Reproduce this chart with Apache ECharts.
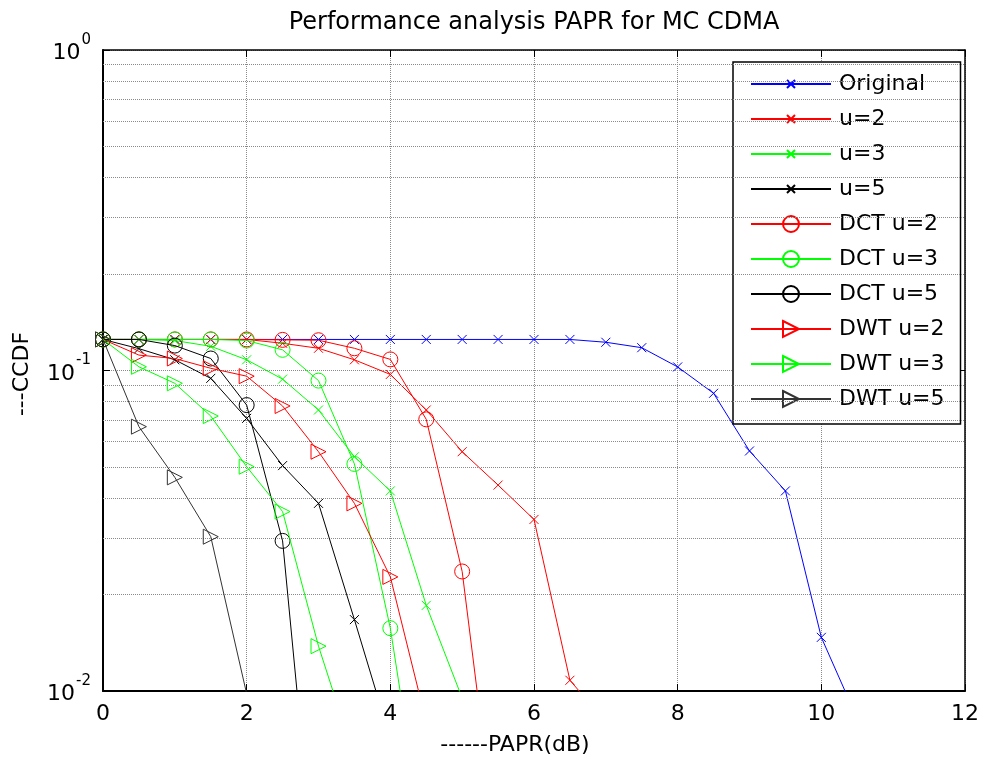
<!DOCTYPE html>
<html>
<head>
<meta charset="utf-8">
<script src="https://cdn.jsdelivr.net/npm/echarts@6/dist/echarts.min.js"></script>
<style>
html,body{margin:0;padding:0;background:#fff;}
#chart{width:990px;height:763px;}
</style>
</head>
<body>
<div id="chart"></div>
<script>
// ---- data ----
const papr = [0,0.5,1,1.5,2,2.5,3,3.5,4,4.5,5,5.5,6,6.5,7,7.5,8,8.5,9,9.5,10,10.5];
const xTicks = [0,2,4,6,8,10,12];
const yTicks = [0.01,0.1,1];
const yMinorGrid = [0.02,0.03,0.04,0.05,0.06,0.07,0.08,0.09,0.2,0.3,0.4,0.5,0.6,0.7,0.8,0.9];

const original = [0.125,0.125,0.125,0.125,0.125,0.125,0.125,0.125,0.125,0.125,0.125,0.125,0.125,0.125,0.1225,0.1178,0.1026,0.0849,0.0561,0.0421,0.0147,0.0082];
const u2 = [0.125,0.125,0.125,0.125,0.125,0.1216,0.1173,0.108,0.0972,0.0753,0.0558,0.0439,0.0343,0.0108,0.008];
const u3 = [0.125,0.125,0.124,0.119,0.108,0.094,0.0753,0.0538,0.0421,0.0185,0.0095];
const u5 = [0.125,0.117,0.108,0.0945,0.0709,0.0505,0.0385,0.0167,0.0071];
const dct2 = [0.125,0.125,0.125,0.125,0.125,0.1246,0.1243,0.1173,0.1083,0.0704,0.0236,0.003];
const dct3 = [0.125,0.125,0.125,0.125,0.124,0.116,0.093,0.0511,0.0157,0.003];
const dct5 = [0.125,0.125,0.1196,0.109,0.078,0.0294,0.002];
const dwt2 = [0.125,0.1117,0.109,0.1016,0.096,0.0775,0.0558,0.0385,0.0227,0.008];
const dwt3 = [0.125,0.1027,0.0912,0.0721,0.0501,0.0363,0.0138,0.0062];
const dwt5 = [0.125,0.0668,0.0464,0.0303,0.0098];

const seriesNames = ['Original','u=2','u=3','u=5','DCT u=2','DCT u=3','DCT u=5','DWT u=2','DWT u=3','DWT u=5'];
const seriesValues = [original,u2,u3,u5,dct2,dct3,dct5,dwt2,dwt3,dwt5];

// ---- styles ----
const BLUE='#0000ff', RED='#ff0000', GREEN='#00ff00', BLACK='#000000';
const colors = [BLUE,RED,GREEN,BLACK,RED,GREEN,BLACK,RED,GREEN,'#333333'];
const CROSS = 'path://M0,0M20,20M5,5L15,15M15,5L5,15';
const TRI = 'path://M0,0L10,5L0,10Z';
const markers = [CROSS,CROSS,CROSS,CROSS,'circle','circle','circle',TRI,TRI,TRI];
const sizes = [18,18,18,18,15,15,15,15,15,15];
const FONT = 'DejaVu Sans';

const series = seriesNames.map((name,i)=>({
  name: name,
  type: 'line',
  data: seriesValues[i].map((v,k)=>[papr[k], v]),
  symbol: markers[i],
  symbolSize: sizes[i],
  showAllSymbol: true,
  clip: true,
  lineStyle: {color: colors[i], width: 1},
  itemStyle: {color: 'none', borderColor: colors[i], borderWidth: 1},
  emphasis: {disabled: true},
  animation: false,
  z: 3 + i
}));

series.push({
  type: 'line',
  data: [],
  silent: true,
  animation: false,
  markLine: {
    silent: true,
    symbol: 'none',
    label: {show: false},
    lineStyle: {color: '#8a8a8a', type: 'dotted', width: 1},
    data: yMinorGrid.map(v=>({yAxis: v}))
  }
});

function supLabel(v){
  const e = Math.round(Math.log10(v));
  return '{b|10}{s|' + e + '}';
}

const chart = echarts.init(document.getElementById('chart'), null, {renderer:'canvas'});
chart.setOption({
  backgroundColor: '#ffffff',
  animation: false,
  grid: {left: 103, top: 50, right: 25, bottom: 72, containLabel: false},
  xAxis: [{
    type: 'value', min: xTicks[0], max: xTicks[xTicks.length-1], interval: 2,
    position: 'bottom',
    axisLine: {show: true, onZero: false, lineStyle: {color: '#000', width: 2}},
    axisTick: {show: true, inside: true, length: 7, lineStyle: {color: '#000', width: 1}},
    axisLabel: {color: '#000', fontSize: 22, fontFamily: FONT, margin: 12},
    splitLine: {show: true, lineStyle: {color: '#8a8a8a', type: 'dotted', width: 1}}
  },{
    type: 'value', min: xTicks[0], max: xTicks[xTicks.length-1], interval: 2,
    position: 'top',
    axisLine: {show: true, onZero: false, lineStyle: {color: '#000', width: 1.5}},
    axisTick: {show: true, inside: true, length: 7, lineStyle: {color: '#000'}},
    axisLabel: {show: false},
    splitLine: {show: false}
  }],
  yAxis: [{
    type: 'log', logBase: 10, min: yTicks[0], max: yTicks[yTicks.length-1], interval: 1,
    position: 'left',
    axisLine: {show: true, onZero: false, lineStyle: {color: '#000', width: 2}},
    axisTick: {show: true, inside: true, length: 7, lineStyle: {color: '#000'}},
    axisLabel: {
      color: '#000', fontFamily: FONT, margin: 12, padding: [7,0,0,0],
      formatter: supLabel,
      rich: {
        b: {fontSize: 22, fontFamily: FONT, color: '#000', verticalAlign: 'bottom', lineHeight: 22},
        s: {fontSize: 15, fontFamily: FONT, color: '#000', verticalAlign: 'bottom', lineHeight: 15, padding: [0,0,17,1]}
      }
    },
    splitLine: {show: true, lineStyle: {color: '#8a8a8a', type: 'dotted', width: 1}}
  },{
    type: 'log', logBase: 10, min: yTicks[0], max: yTicks[yTicks.length-1], interval: 1,
    position: 'right',
    axisLine: {show: true, onZero: false, lineStyle: {color: '#000', width: 1.5}},
    axisTick: {show: true, inside: true, length: 7, lineStyle: {color: '#000'}},
    axisLabel: {show: false},
    splitLine: {show: false}
  }],
  legend: {
    data: seriesNames,
    orient: 'vertical',
    left: 733, top: 62,
    padding: [11, 16, 14, 17],
    itemWidth: 80, itemHeight: 20, itemGap: 13,
    backgroundColor: '#fff',
    borderColor: '#000', borderWidth: 1.5, borderRadius: 0,
    textStyle: {fontSize: 22, fontFamily: FONT, color: '#000', lineHeight: 22, padding: [0,0,0,3]},
    selectedMode: false,
    inactiveColor: '#000'
  },
  graphic: [
    {type: 'text', x: 534, y: 23, style: {text: 'Performance analysis PAPR for MC CDMA', font: '24px "DejaVu Sans"', fill: '#000', align: 'center', verticalAlign: 'middle'}},
    {type: 'text', x: 515, y: 745, style: {text: '------PAPR(dB)', font: '22px "DejaVu Sans"', fill: '#000', align: 'center', verticalAlign: 'middle'}},
    {type: 'text', x: 22, y: 374, rotation: Math.PI/2, style: {text: '---CCDF', font: '22px "DejaVu Sans"', fill: '#000', align: 'center', verticalAlign: 'middle'}}
  ],
  series: series
});
</script>
</body>
</html>
